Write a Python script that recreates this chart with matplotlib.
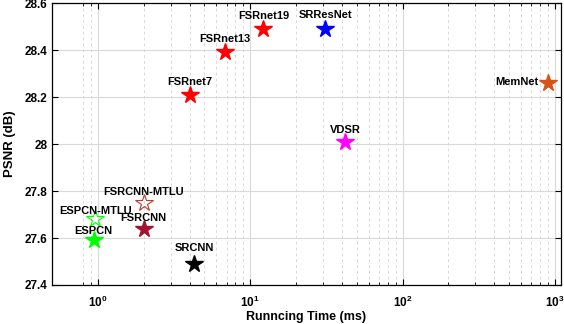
import matplotlib
matplotlib.use("Agg")
import matplotlib.pyplot as plt
from matplotlib.ticker import FixedLocator, NullFormatter

plt.rcParams['font.family'] = ['Liberation Sans', 'DejaVu Sans']
plt.rcParams['font.weight'] = 'bold'
plt.rcParams['mathtext.fontset'] = 'custom'
plt.rcParams['mathtext.rm'] = 'Liberation Sans:bold'
plt.rcParams['mathtext.it'] = 'Liberation Sans:bold'
plt.rcParams['mathtext.bf'] = 'Liberation Sans:bold'

methods = ['FSRnet7', 'FSRnet13', 'FSRnet19', 'SRResNet', 'VDSR', 'MemNet',
           'SRCNN', 'FSRCNN', 'FSRCNN-MTLU', 'ESPCN-MTLU', 'ESPCN']
times = [4.0, 6.8, 12.2, 31.0, 42.0, 900.0, 4.3, 2.0, 2.0, 0.96, 0.94]
psnr = [28.21, 28.39, 28.49, 28.49, 28.01, 28.26, 27.49, 27.64, 27.75, 27.68, 27.59]
colors = ['#FF0000', '#FF0000', '#FF0000', '#0000FF', '#FF00FF', '#D95319',
          '#000000', '#A2142F', '#C0392B', '#00FF00', '#00FF00']
filled = [True, True, True, True, True, True, True, True, False, False, True]

xticks = [1, 10, 100, 1000]
xticklabels = [r'$10^0$', r'$10^1$', r'$10^2$', r'$10^3$']
yticks = [27.4, 27.6, 27.8, 28.0, 28.2, 28.4, 28.6]
yticklabels = ['27.4', '27.6', '27.8', '28', '28.2', '28.4', '28.6']

fig = plt.figure(figsize=(5.64, 3.24), dpi=100)
ax = fig.add_axes([0.0922, 0.1204, 0.9025, 0.870])
ax.set_xscale('log')
ax.set_xlim(0.5, 1095)
ax.set_ylim(27.4, 28.6)

for m, t, p, c, f in zip(methods, times, psnr, colors, filled):
    if f:
        ax.plot(t, p, marker='*', markersize=13, color=c, markeredgecolor=c, linestyle='none', zorder=3)
    else:
        ax.plot(t, p, marker='*', markersize=13, markerfacecolor='none', markeredgecolor=c,
                markeredgewidth=0.8, linestyle='none', zorder=3)

# label offsets in points relative to the star (label centre)
label_offsets = {
    'FSRnet7': (0, 9.4, 'center'),
    'FSRnet13': (0, 9.4, 'center'),
    'FSRnet19': (0, 9.4, 'center'),
    'SRResNet': (0, 10, 'center'),
    'VDSR': (0, 8.6, 'center'),
    'MemNet': (-7, 0.5, 'right'),
    'SRCNN': (0, 11.5, 'center'),
    'FSRCNN': (0, 8, 'center'),
    'FSRCNN-MTLU': (0, 8, 'center'),
    'ESPCN-MTLU': (0, 6, 'center'),
    'ESPCN': (0, 6.5, 'center'),
}
for m, t, p in zip(methods, times, psnr):
    dx, dy, ha = label_offsets[m]
    ax.annotate(m, (t, p), xytext=(dx, dy), textcoords='offset points',
                ha=ha, va='center', fontsize=8, fontweight='bold', zorder=4)

ax.set_xticks(xticks)
ax.set_xticklabels(xticklabels)
minors = [0.8, 0.9] + [k * 10 ** e for e in range(0, 3) for k in range(2, 10)]
ax.xaxis.set_minor_locator(FixedLocator(minors))
ax.xaxis.set_minor_formatter(NullFormatter())
ax.set_yticks(yticks)
ax.set_yticklabels(yticklabels)

ax.grid(True, which='major', color='#d9d9d9', linewidth=0.8, linestyle='-')
ax.grid(True, which='minor', axis='x', color='#d9d9d9', linewidth=0.7, linestyle=(0, (3, 3)))
ax.set_axisbelow(True)

ax.tick_params(which='both', direction='in', top=True, right=True, labelsize=8.5)
ax.tick_params(axis='x', which='major', pad=7)
ax.tick_params(which='major', length=4, width=0.8)
ax.tick_params(which='minor', length=2, width=0.6)
for s in ax.spines.values():
    s.set_linewidth(0.9)

ax.set_xlabel('Runncing Time (ms)', fontsize=9, fontweight='bold', labelpad=1)
ax.set_ylabel('PSNR (dB)', fontsize=9.5, fontweight='bold', labelpad=6)

fig.savefig('out.png', dpi=100)
